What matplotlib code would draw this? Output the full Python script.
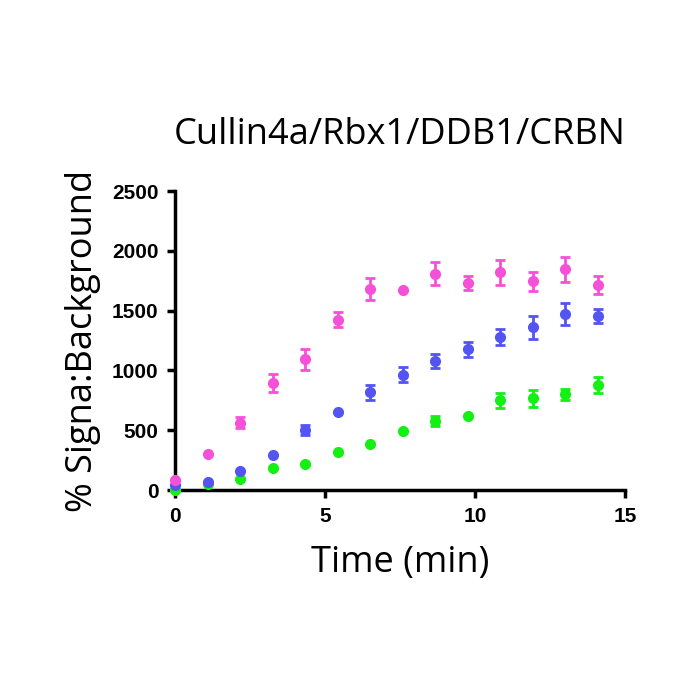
import numpy as np
import matplotlib.pyplot as plt

# time points (min), one read every 65 s
time_min = np.arange(14) * 65 / 60.0

pink_mean = [84, 301, 563, 897, 1092, 1424, 1680, 1675, 1809, 1733, 1820, 1745, 1845, 1717]
pink_err = [0, 0, 45, 77, 88, 61, 92, 0, 96, 59, 102, 77, 106, 77]

blue_mean = [42, 64, 162, 290, 499, 649, 817, 964, 1076, 1176, 1279, 1360, 1471, 1458]
blue_err = [0, 0, 0, 0, 42, 0, 64, 61, 59, 64, 68, 96, 95, 60]

green_mean = [3, 50, 89, 181, 215, 315, 385, 496, 577, 616, 752, 769, 800, 878]
green_err = [0, 0, 0, 0, 0, 0, 0, 0, 42, 0, 63, 71, 47, 70]

x_ticks = [0, 5, 10, 15]
y_ticks = [0, 500, 1000, 1500, 2000, 2500]


def draw_plot():
    fig = plt.figure(figsize=(7, 7), dpi=100)
    ax = fig.add_axes([0.25, 0.30, 0.643, 0.427])

    series = [
        (green_mean, green_err, '#14F014'),
        (blue_mean, blue_err, '#5454F2'),
        (pink_mean, pink_err, '#F550D8'),
    ]
    for mean, err, color in series:
        ax.errorbar(time_min, mean, yerr=err, fmt='o', color=color,
                    markersize=7, elinewidth=2, capsize=3.5, capthick=2,
                    clip_on=False, zorder=3)

    ax.set_xlim(0, 15)
    ax.set_ylim(0, 2500)
    ax.set_xticks(x_ticks)
    ax.set_yticks(y_ticks)

    for side in ['top', 'right']:
        ax.spines[side].set_visible(False)
    for side in ['left', 'bottom']:
        ax.spines[side].set_linewidth(2.5)

    ax.tick_params(direction='out', length=6, width=2.5, pad=6)
    for lab in ax.get_xticklabels() + ax.get_yticklabels():
        lab.set_family('Liberation Sans')
        lab.set_fontweight('bold')
        lab.set_fontsize(15)

    ax.set_title('Cullin4a/Rbx1/DDB1/CRBN', family='Open Sans',
                 fontsize=26, pad=34)
    ax.set_xlabel('Time (min)', family='Open Sans', fontsize=26, labelpad=14)
    ax.set_ylabel('% Signa:Background', family='Open Sans', fontsize=26,
                  labelpad=8)

    fig.savefig('out.png', dpi=100, facecolor='white')


if __name__ == '__main__':
    draw_plot()
